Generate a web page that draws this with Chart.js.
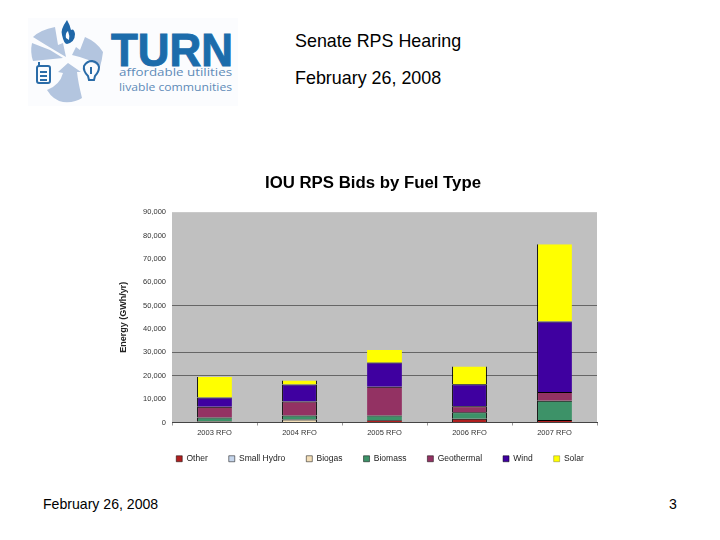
<!DOCTYPE html>
<html><head><meta charset="utf-8">
<script src="https://cdn.jsdelivr.net/npm/chart.js@4"></script>
<style>
html,body{margin:0;padding:0;background:#fff;width:720px;height:540px;overflow:hidden;font-family:"Liberation Sans",Arial,sans-serif}
.t{position:absolute;color:#000;white-space:nowrap;line-height:1}
#wrap{position:absolute;left:106px;top:170px;width:534px;height:300px}
svg{position:absolute;left:0;top:0}
</style></head><body>
<svg width="260" height="115" viewBox="0 0 260 115">
<rect x="28" y="18" width="210" height="88" fill="#fbfcfe"/>
<g fill="#b3c5df">
<path d="M66 57 L63 43 L58 45 L55 27 Q40 30 33 37 Q44 44 66 57Z"/>
<path d="M32 43 Q30 52 33 61 L63 58 L50 50Z"/>
<path d="M72 55 L76 47 L80 50 L85 37 Q97 42 103 52 Q102 60 100 67 Q88 58 72 55Z"/>
<path d="M68 63 L58 72 L63 73 Q60 85 47 90 Q53 100 63 102 Q75 103 82 98 Q78 82 77 72 L81 72Z"/>
</g>
<path d="M67 20 Q60 30 62 35 Q64 44 67 44 Q75 42 75 34 Q74 28 71 30 Q70 25 67 20Z" fill="#1f67a8"/>
<path d="M66 38 Q65 33 68 31 Q70 36 69 40Z" fill="#fbfcfe"/>
<g fill="none" stroke="#2a6ca8" stroke-width="2">
<rect x="37" y="66" width="13" height="17" rx="2"/>
<path d="M39 62 L39 66 M40 72 H47 M40 76 H47 M40 80 H47"/>
<path d="M88 76 Q83 71 84 66 Q87 61 92 61 Q98 62 99 67 Q99 72 95 76 L94 80 H89Z"/>
<path d="M91 67 V74"/>
</g>
<text x="111" y="66" font-family="Liberation Sans" font-weight="700" font-size="46" fill="#1c6cab" stroke="#1c6cab" stroke-width="1" textLength="122" lengthAdjust="spacingAndGlyphs">TURN</text>
<text x="119" y="76" font-family="Open Sans" font-size="11.5" fill="#5e8bb8" textLength="113" lengthAdjust="spacingAndGlyphs">affordable utilities</text>
<text x="119" y="91" font-family="Open Sans" font-size="11.5" fill="#5e8bb8" textLength="113" lengthAdjust="spacingAndGlyphs">livable communities</text>
</svg>
<div class="t" style="left:295px;top:33px;font-size:17.9px">Senate RPS Hearing</div>
<div class="t" style="left:295px;top:70px;font-size:17.9px">February 26, 2008</div>
<div class="t" style="left:43px;top:497px;font-size:14.1px">February 26, 2008</div>
<div class="t" style="left:669px;top:497px;font-size:14.1px">3</div>
<div id="wrap"><canvas id="c" width="534" height="314"></canvas></div>
<script>
const categories=["2003 RFO","2004 RFO","2005 RFO","2006 RFO","2007 RFO"];
const other=[400,0,1000,1600,1100];
const smallHydro=[0,0,0,0,0];
const biogas=[0,1300,0,0,0];
const biomass=[1700,1700,2000,2800,8200];
const geothermal=[4600,6000,12300,2600,3800];
const wind=[4000,7300,10400,9400,30100];
const solar=[8800,1700,5300,7600,33100];
const visibleGrid=[20000,30000,50000];
const chartTitle="IOU RPS Bids by Fuel Type";
const yTitle="Energy (GWh/yr)";

const leftEdge=[1,1,0,1,1], rightEdge=[0,1,0,1,0];
function ds(label,data,color,topLine){return {label,data,backgroundColor:color,borderColor:'#000',borderSkipped:false,
  categoryPercentage:1,barPercentage:0.41,yAxisID:'y',
  borderWidth:c=>({top:topLine,bottom:0,left:leftEdge[c.dataIndex],right:rightEdge[c.dataIndex]})};}
const plotBg={id:'plotBg',
 afterLayout(ch){const l=ch.legend;l.left+=7;l.right+=7;l.top-=7;l.bottom-=7;},
 beforeDraw(ch){const a=ch.chartArea,x=ch.ctx;x.save();x.fillStyle='#c0c0c0';x.fillRect(a.left,a.top,a.width,a.height);x.restore();}};
new Chart(document.getElementById('c'),{type:'bar',
 data:{labels:categories,datasets:[
  ds('Other',other,'#b01f1f',1),
  ds('Small Hydro',smallHydro,'#c6d6ec',1),
  ds('Biogas',biogas,'#f4dfb9',1),
  ds('Biomass',biomass,'#3d9268',1),
  ds('Geothermal',geothermal,'#933263',1),
  ds('Wind',wind,'#3f00a0',1),
  ds('Solar',solar,'#ffff00',0)]},
 plugins:[plotBg],
 options:{responsive:false,animation:false,
  layout:{padding:{left:0,right:0,top:0,bottom:4}},
  plugins:{
   title:{display:true,text:chartTitle,color:'#000',font:{family:'Liberation Sans',size:16.8,weight:'bold'},padding:{top:3,bottom:19}},
   legend:{position:'bottom',labels:{color:'#222',boxWidth:6,boxHeight:6,padding:21,font:{family:'Liberation Sans',size:8.5}}},
   tooltip:{enabled:false}},
  scales:{
   x:{stacked:true,
      afterFit(s){s.height=18;},
      border:{color:'#444'},
      grid:{display:true,drawOnChartArea:false,drawTicks:true,tickLength:3,color:'#999'},
      ticks:{color:'#333',font:{family:'Liberation Sans',size:7.5},padding:3,maxRotation:0}},
   y:{stacked:true,min:0,max:90000,
      afterFit(s){s.width=66;},
      afterBuildTicks(s){s.ticks=[0,1,2,3,4,5,6,7,8,9].map(i=>({value:i*10000}));},
      border:{display:false},
      grid:{drawTicks:false,color:c=>visibleGrid.includes(c.tick.value)?'#666':'rgba(0,0,0,0)'},
      title:{display:true,text:yTitle,color:'#222',font:{family:'Liberation Sans',size:9,weight:'bold'},padding:{top:12,bottom:0}},
      ticks:{color:'#333',padding:6,font:{family:'Liberation Sans',size:7.5},callback:v=>v.toLocaleString('en-US')}},
   spacer:{position:'right',display:true,min:0,max:1,afterFit(s){s.width=43;},
      border:{display:false},grid:{display:false},ticks:{display:false}}
  }}});
</script></body></html>
